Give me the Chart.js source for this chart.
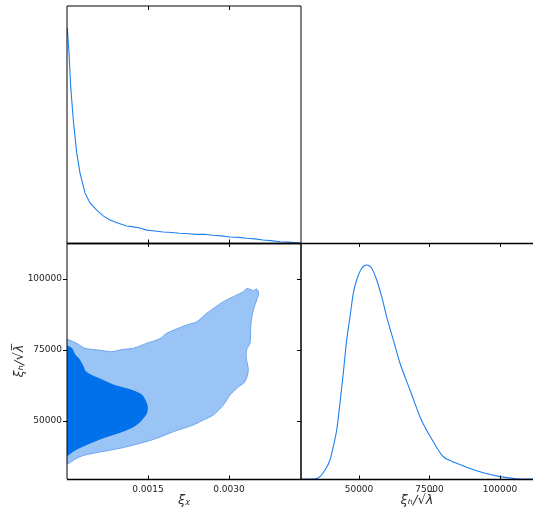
<!DOCTYPE html>
<html><head><meta charset="utf-8">
<script src="https://cdn.jsdelivr.net/npm/chart.js@4.4.1/dist/chart.umd.min.js"></script>
<style>
html,body{margin:0;padding:0;background:#fff;}
#wrap{position:relative;width:533px;height:513px;overflow:hidden;}
canvas{position:absolute;left:0;top:0;}
</style></head><body>
<div id="wrap">
<canvas id="cA" width="533" height="513"></canvas>
<canvas id="cB" width="533" height="513"></canvas>
<canvas id="cC" width="533" height="513"></canvas>
</div>
<script>
// ---- tick labels ----
const chiTicks = [0.0015, 0.0030];
const hTicks = [50000, 75000, 100000];
const chiRange = [0, 0.004333];
const hRangeY = [29577, 112676];
const hRangeX = [29433, 111702];

// ---- 1D marginal of xi_chi (top-left) ----
const chiX = [0.0000056, 0.000037, 0.0000685, 0.0001167, 0.00018, 0.00024, 0.000333, 0.000426, 0.00055, 0.00067, 0.000796, 0.00095, 0.001106, 0.00123, 0.00135, 0.001476, 0.00163, 0.00178, 0.00194, 0.00209, 0.00225, 0.0024, 0.00255, 0.0027, 0.00286, 0.00302, 0.00318, 0.00333, 0.00348, 0.00363, 0.00378, 0.00394, 0.0041, 0.00425, 0.00433];
const chiP = [1.0, 0.884, 0.727, 0.572, 0.419, 0.326, 0.233, 0.186, 0.153, 0.126, 0.107, 0.092, 0.079, 0.075, 0.070, 0.060, 0.056, 0.051, 0.049, 0.045, 0.043, 0.040, 0.041, 0.036, 0.033, 0.028, 0.026, 0.022, 0.019, 0.014, 0.011, 0.006, 0.004, 0.0014, 0.0];

// ---- 1D marginal of xi_h/sqrt(lambda) (bottom-right) ----
const hX = [29433, 33795, 36171, 37944, 39717, 40887, 42092, 43263, 44433, 45638, 46809, 47979, 49184, 50957, 52730, 54503, 56276, 58049, 59822, 62163, 64539, 66312, 68085, 69255, 71631, 72801, 76348, 79894, 82269, 88191, 94113, 100000, 105920, 111702];
const hP = [0, 0, 0.011, 0.042, 0.089, 0.151, 0.229, 0.355, 0.495, 0.650, 0.758, 0.868, 0.930, 0.985, 1.0, 0.985, 0.930, 0.852, 0.758, 0.650, 0.541, 0.477, 0.416, 0.374, 0.291, 0.257, 0.174, 0.104, 0.086, 0.055, 0.029, 0.011, 0.0014, 0];

// ---- 2D contours (xi_chi, xi_h/sqrt(lambda)) ----
const outerChi = [0, 0.00018, 0.000333, 0.00055, 0.000828, 0.000944, 0.001043, 0.001228, 0.001476, 0.001722, 0.001846, 0.002217, 0.002402, 0.002587, 0.002894, 0.00308, 0.003265, 0.003328, 0.003389, 0.00345, 0.003513, 0.003546, 0.003543, 0.003513, 0.00345, 0.003407, 0.003398, 0.003389, 0.003324, 0.003319, 0.003357, 0.003296, 0.003172, 0.003019, 0.002894, 0.002709, 0.002524, 0.002339, 0.001969, 0.001661, 0.001352, 0.000981, 0.000487, 0.000241, 0];
const outerH = [78872, 77358, 75598, 75070, 74401, 74823, 75246, 75598, 77358, 78978, 80880, 83802, 84964, 87921, 92005, 93766, 95527, 96653, 96372, 95949, 96477, 95421, 94365, 92604, 89083, 84506, 80281, 77358, 75000, 72182, 67957, 63838, 61971, 59155, 55634, 52113, 50352, 48592, 46233, 43909, 42148, 40388, 38627, 37430, 34754];
const innerChi = [0, 0.000087, 0.000148, 0.000209, 0.000302, 0.000333, 0.000457, 0.000611, 0.000857, 0.001106, 0.001259, 0.001383, 0.001444, 0.001481, 0.001487, 0.001472, 0.001426, 0.001352, 0.001228, 0.001013, 0.000796, 0.000611, 0.000302, 0.000148, 0];
const innerH = [76408, 75598, 73239, 72182, 69119, 67605, 66021, 64788, 62676, 61338, 60387, 59155, 57394, 55634, 54225, 52641, 51408, 49754, 47993, 46233, 44894, 43662, 41198, 39789, 37677];

// ---- axis titles ----
const titleChi = 'ξᵪ';
const titleH = 'ξₕ/√λ̅';

const pts = (xs, ys) => xs.map((x, i) => ({x: x, y: ys[i]}));

const framePlugin = {
  id: 'frame',
  afterDraw(chart, args, o) {
    const ctx = chart.ctx, a = chart.chartArea;
    ctx.save();
    const line = (x1, y1, x2, y2, w) => {
      ctx.strokeStyle = '#000'; ctx.lineWidth = w || 1;
      ctx.beginPath(); ctx.moveTo(x1, y1); ctx.lineTo(x2, y2); ctx.stroke();
    };
    const L = Math.round(a.left), R = Math.round(a.right), T = Math.round(a.top), B = Math.round(a.bottom);
    const s = o.sides || {};
    if (s.left) line(L, T, L, B, 1);
    if (s.right) line(R, T, R, B, 1);
    if (s.topSoft) line(L, T, R, T, 1);
    if (s.top) line(L, T + 0.5, R, T + 0.5, 1.3);
    if (s.bottom) line(L, B + 0.5, R, B + 0.5, 1.3);
    const xs = chart.scales.x, ys = chart.scales.y;
    (o.xTicks || []).forEach(v => {
      const px = Math.round(xs.getPixelForValue(v)) + 0.5;
      if (o.tickTop) line(px, T, px, T + 4, 1);
      if (o.tickBottom) line(px, B + 0.5, px, B - 3.5, 1);
    });
    (o.yTicks || []).forEach(v => {
      const py = Math.round(ys.getPixelForValue(v)) + 0.5;
      line(L - 4, py, L, py, 1);
      line(R - 4, py, R, py, 1);
    });
    ctx.restore();
  }
};
Chart.register(framePlugin);

const lineBlue = 'rgb(30,128,240)';
const tickFont = {family: 'DejaVu Sans', size: 9};
const titleFont = {family: 'DejaVu Sans', size: 13, style: 'italic'};

const common = {
  responsive: false, animation: false, devicePixelRatio: 1,
  events: [],
};

// Top-left: marginal of xi_chi
new Chart(document.getElementById('cA'), {
  type: 'scatter',
  data: {datasets: [{data: pts(chiX, chiP), showLine: true, borderColor: lineBlue, borderWidth: 1.1, pointRadius: 0, tension: 0}]},
  options: Object.assign({}, common, {
    layout: {padding: {left: 67, top: 6, right: 232, bottom: 270}},
    plugins: {legend: {display: false}, tooltip: {enabled: false},
      frame: {sides: {left: true, right: true, topSoft: true, bottom: true}, xTicks: chiTicks, tickTop: true, tickBottom: true}},
    scales: {
      x: {type: 'linear', display: false, min: chiRange[0], max: chiRange[1]},
      y: {type: 'linear', display: false, min: 0, max: 1.102}
    }
  })
});

// Bottom-left: 2D contours
new Chart(document.getElementById('cB'), {
  type: 'scatter',
  data: {datasets: [
    {data: pts(innerChi, innerH), showLine: true, fill: 'shape', backgroundColor: 'rgb(0,112,235)', borderColor: 'rgb(0,112,235)', borderWidth: 1, pointRadius: 0, tension: 0.3, order: 0},
    {data: pts(outerChi, outerH), showLine: true, fill: 'shape', backgroundColor: 'rgb(154,196,245)', borderColor: 'rgb(110,166,238)', borderWidth: 1, pointRadius: 0, tension: 0.3, order: 1}
  ]},
  options: Object.assign({}, common, {
    layout: {padding: {left: 0, top: 243, right: 232, bottom: 0}},
    plugins: {legend: {display: false}, tooltip: {enabled: false},
      frame: {sides: {left: true, right: true, top: true, bottom: true}, xTicks: chiTicks, yTicks: hTicks, tickTop: true, tickBottom: true}},
    scales: {
      x: {type: 'linear', min: chiRange[0], max: chiRange[1],
        afterFit: s => { s.height = 34; },
        afterBuildTicks: s => { s.ticks = chiTicks.map(v => ({value: v})); },
        grid: {display: false, drawTicks: false}, border: {display: false},
        ticks: {font: tickFont, color: '#222', padding: 5, maxRotation: 0, callback: v => v.toFixed(4)},
        title: {display: true, text: titleChi, font: titleFont, color: '#333', padding: {top: 0, bottom: 5}}},
      y: {type: 'linear', min: hRangeY[0], max: hRangeY[1],
        afterFit: s => { s.width = 67; },
        afterBuildTicks: s => { s.ticks = hTicks.map(v => ({value: v})); },
        grid: {display: false, drawTicks: false}, border: {display: false},
        ticks: {font: tickFont, color: '#222', padding: 5, callback: v => String(v)},
        title: {display: true, text: titleH, font: titleFont, color: '#333', padding: {top: 12, bottom: 0}}}
    }
  })
});

// Bottom-right: marginal of xi_h/sqrt(lambda)
new Chart(document.getElementById('cC'), {
  type: 'scatter',
  data: {datasets: [{data: pts(hX, hP), showLine: true, borderColor: lineBlue, borderWidth: 1.1, pointRadius: 0, cubicInterpolationMode: 'monotone'}]},
  options: Object.assign({}, common, {
    layout: {padding: {left: 301, top: 243, right: 0, bottom: 0}},
    plugins: {legend: {display: false}, tooltip: {enabled: false},
      frame: {sides: {left: true, top: true, bottom: true}, xTicks: hTicks, tickTop: true, tickBottom: true}},
    scales: {
      x: {type: 'linear', min: hRangeX[0], max: hRangeX[1],
        afterFit: s => { s.height = 34; },
        afterBuildTicks: s => { s.ticks = hTicks.map(v => ({value: v})); },
        grid: {display: false, drawTicks: false}, border: {display: false},
        ticks: {font: tickFont, color: '#222', padding: 5, maxRotation: 0, callback: v => String(v)},
        title: {display: true, text: titleH, font: titleFont, color: '#333', padding: {top: 0, bottom: 5}}},
      y: {type: 'linear', display: false, min: 0, max: 1.103}
    }
  })
});
</script>
</body></html>
